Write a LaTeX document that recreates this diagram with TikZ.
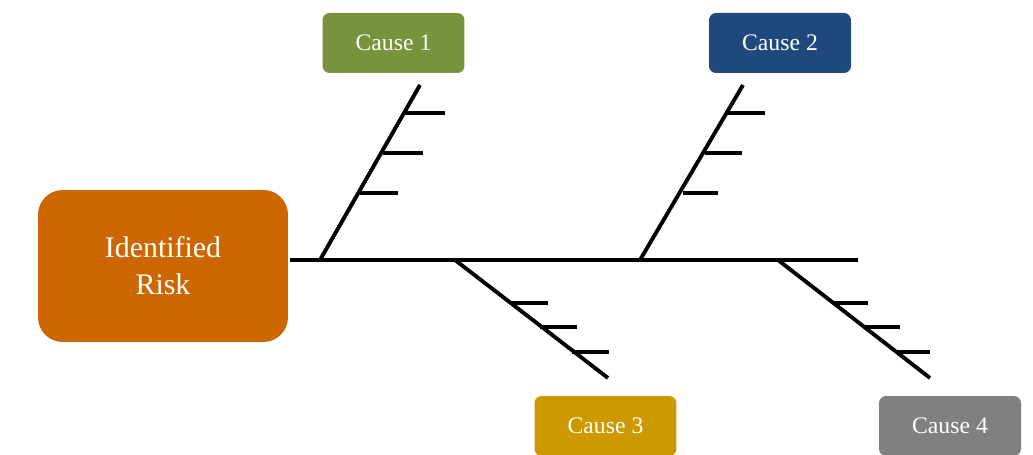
\documentclass[tikz,border=0pt]{standalone}
\usepackage{fontspec}
\setmainfont{Liberation Serif}
\definecolor{riskorange}{HTML}{CC6600}
\definecolor{causegreen}{HTML}{77933C}
\definecolor{causeblue}{HTML}{1F497D}
\definecolor{causegold}{HTML}{CC9900}
\definecolor{causegray}{HTML}{808080}
\begin{document}
\begin{tikzpicture}[x=0.02cm,y=-0.02cm, line width=2.2pt,
	causebox/.style={rounded corners=4pt, text=white, minimum width=2.84cm, minimum height=1.2cm, font=\fontsize{13.5}{15}\selectfont, inner sep=0pt},
	riskbox/.style={rounded corners=14pt, fill=riskorange, text=white, minimum width=5cm, minimum height=3.04cm, align=center, font=\fontsize{17}{21}\selectfont}]
	\useasboundingbox (0,0) rectangle (1033,455);

	\node[riskbox] (risk) at (163,266) {Identified\\Risk};
	\node[causebox, fill=causegreen] (c1) at (393.5,43) {Cause 1};
	\node[causebox, fill=causeblue] (c2) at (780,43) {Cause 2};
	\node[causebox, fill=causegold] (c3) at (605.5,426) {Cause 3};
	\node[causebox, fill=causegray] (c4) at (950,426) {Cause 4};

	% spine
	\coordinate (tail) at (858,260);
	\draw (risk.east |- tail) -- (tail);

	% upper bones
	\draw (320,260) -- (420,85);
	\draw (405,113) -- (445,113);
	\draw (383,153) -- (423,153);
	\draw (360,193) -- (398,193);

	\draw (640,260) -- (743,85);
	\draw (727,113) -- (765,113);
	\draw (705,153) -- (742,153);
	\draw (683,193) -- (718,193);

	% lower bones
	\draw (455,260) -- (608,378);
	\draw (510,303) -- (548,303);
	\draw (540,327) -- (577,327);
	\draw (572,352) -- (609,352);

	\draw (778,260) -- (930,378);
	\draw (833,303) -- (868,303);
	\draw (865,327) -- (900,327);
	\draw (897,352) -- (930,352);
\end{tikzpicture}
\end{document}
